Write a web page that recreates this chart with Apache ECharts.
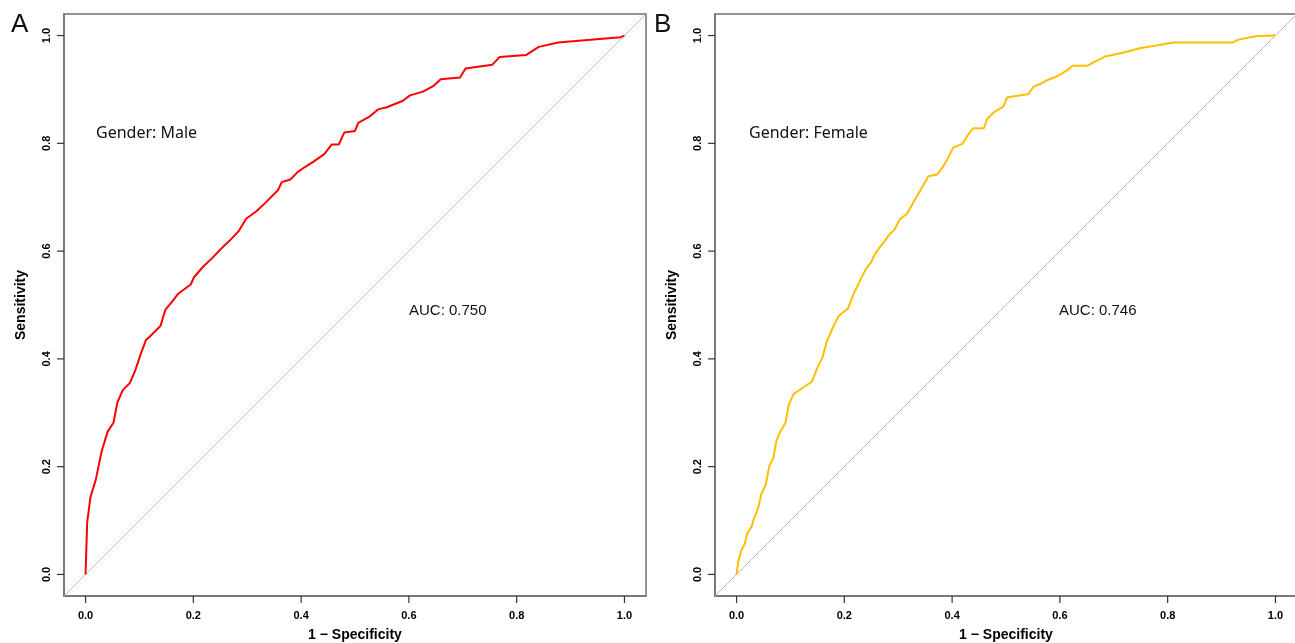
<!DOCTYPE html>
<html>
<head>
<meta charset="utf-8">
<title>ROC by gender</title>
<script src="https://cdn.jsdelivr.net/npm/echarts@6/dist/echarts.min.js"></script>
<style>
  html, body { margin: 0; padding: 0; background: #fff; }
  #chart { width: 1295px; height: 643px; }
</style>
</head>
<body>
<div id="chart"></div>
<script>
// tick positions on both axes
var ticks = [0, 0.2, 0.4, 0.6, 0.8, 1.0];

// Male ROC curve: [1 - specificity, sensitivity]
var maleRoc = [
  [0, 0], [0.003, 0.096], [0.009, 0.143], [0.019, 0.176], [0.030, 0.229],
  [0.041, 0.265], [0.052, 0.282], [0.059, 0.319], [0.069, 0.342], [0.082, 0.355],
  [0.092, 0.378], [0.102, 0.408], [0.112, 0.435], [0.119, 0.441], [0.139, 0.461],
  [0.148, 0.491], [0.162, 0.508], [0.172, 0.521], [0.195, 0.538], [0.201, 0.551],
  [0.218, 0.571], [0.235, 0.587], [0.251, 0.604], [0.268, 0.620], [0.284, 0.637],
  [0.298, 0.660], [0.317, 0.674], [0.334, 0.690], [0.357, 0.713], [0.364, 0.728],
  [0.380, 0.733], [0.394, 0.747], [0.407, 0.756], [0.423, 0.766], [0.443, 0.780],
  [0.457, 0.798], [0.470, 0.798], [0.480, 0.820], [0.500, 0.823], [0.506, 0.838],
  [0.526, 0.849], [0.543, 0.863], [0.559, 0.867], [0.589, 0.879], [0.602, 0.889],
  [0.626, 0.896], [0.645, 0.906], [0.659, 0.919], [0.695, 0.922], [0.705, 0.939],
  [0.755, 0.946], [0.768, 0.960], [0.818, 0.964], [0.841, 0.979], [0.877, 0.987],
  [0.937, 0.992], [0.993, 0.997], [1.0, 1.0]
];

// Female ROC curve
var femaleRoc = [
  [0, 0], [0.003, 0.023], [0.008, 0.043], [0.015, 0.056], [0.020, 0.076],
  [0.028, 0.089], [0.033, 0.106], [0.040, 0.123], [0.046, 0.149], [0.054, 0.166],
  [0.061, 0.202], [0.068, 0.215], [0.074, 0.248], [0.081, 0.265], [0.091, 0.282],
  [0.097, 0.315], [0.106, 0.335], [0.121, 0.345], [0.140, 0.358], [0.150, 0.384],
  [0.159, 0.401], [0.167, 0.431], [0.180, 0.461], [0.190, 0.480], [0.207, 0.494],
  [0.217, 0.520], [0.230, 0.547], [0.240, 0.567], [0.250, 0.580], [0.256, 0.593],
  [0.265, 0.606], [0.276, 0.620], [0.283, 0.630], [0.293, 0.640], [0.303, 0.659],
  [0.316, 0.669], [0.329, 0.692], [0.343, 0.716], [0.356, 0.739], [0.372, 0.742],
  [0.382, 0.755], [0.392, 0.772], [0.402, 0.792], [0.419, 0.799], [0.429, 0.815],
  [0.439, 0.828], [0.459, 0.828], [0.465, 0.845], [0.478, 0.858], [0.495, 0.868],
  [0.502, 0.885], [0.518, 0.888], [0.541, 0.891], [0.551, 0.905], [0.565, 0.911],
  [0.578, 0.918], [0.594, 0.924], [0.611, 0.934], [0.624, 0.944], [0.651, 0.944],
  [0.664, 0.951], [0.684, 0.961], [0.717, 0.968], [0.750, 0.977], [0.777, 0.981],
  [0.810, 0.987], [0.922, 0.987], [0.929, 0.992], [0.966, 0.999], [1.0, 1.0]
];

// reference diagonal, corner to corner of the R plot region
var diagonal = [[-0.04, -0.04], [1.04, 1.04]];

var axisMin = -0.04, axisMax = 1.04;
var labelFont = 'Liberation Sans, Arial, sans-serif';
var boxColor = '#707070';
var gridTop = 14, gridSize = 582;
var gridLefts = [64, 715];

function xAxisFor(idx) {
  return {
    gridIndex: idx,
    type: 'value',
    min: axisMin,
    max: axisMax,
    name: '1 \u2212 Specificity',
    nameLocation: 'middle',
    nameGap: 32,
    nameTextStyle: { fontFamily: labelFont, fontWeight: 'bold', fontSize: 14, color: '#000' },
    axisLine: { show: true, onZero: false, lineStyle: { color: boxColor, width: 1.5 } },
    splitLine: { show: false },
    axisTick: { show: false },
    axisLabel: {
      customValues: ticks,
      margin: 14,
      fontFamily: labelFont, fontWeight: 'bold', fontSize: 11, color: '#000',
      formatter: function (v) { return v.toFixed(1); }
    }
  };
}

function yAxisFor(idx) {
  return {
    gridIndex: idx,
    type: 'value',
    min: axisMin,
    max: axisMax,
    name: 'Sensitivity',
    nameLocation: 'middle',
    nameGap: 36,
    nameTextStyle: { fontFamily: labelFont, fontWeight: 'bold', fontSize: 14, color: '#000' },
    axisLine: { show: true, onZero: false, lineStyle: { color: boxColor, width: 1.5 } },
    splitLine: { show: false },
    axisTick: { show: false },
    axisLabel: {
      customValues: ticks,
      rotate: 90,
      margin: 12,
      fontFamily: labelFont, fontWeight: 'bold', fontSize: 11, color: '#000',
      formatter: function (v) { return v.toFixed(1); }
    }
  };
}

function textEl(x, y, str, font) {
  return { type: 'text', x: x, y: y, style: { text: str, font: font, fill: '#111', textVerticalAlign: 'middle' } };
}

// R-style outward tick marks, placed through the axes' own scales
function tickSeries(idx) {
  return {
    type: 'custom',
    xAxisIndex: idx,
    yAxisIndex: idx,
    clip: false,
    silent: true,
    z: 20,
    data: ticks.map(function (v) { return [v]; }),
    renderItem: function (params, api) {
      var v = api.value(0);
      var xp = api.coord([v, axisMin]);
      var yp = api.coord([axisMin, v]);
      return {
        type: 'group',
        children: [
          { type: 'line', shape: { x1: xp[0], y1: xp[1], x2: xp[0], y2: xp[1] + 7 }, style: { stroke: '#333', lineWidth: 1.2 } },
          { type: 'line', shape: { x1: yp[0] - 7, y1: yp[1], x2: yp[0], y2: yp[1] }, style: { stroke: '#333', lineWidth: 1.2 } }
        ]
      };
    }
  };
}

var chart = echarts.init(document.getElementById('chart'));
chart.setOption({
  animation: false,
  grid: gridLefts.map(function (l) {
    return { left: l, top: gridTop, width: gridSize, height: gridSize, outerBoundsMode: 'none', containLabel: false,
      show: true, borderColor: boxColor, borderWidth: 1.5, backgroundColor: 'transparent' };
  }),
  xAxis: [xAxisFor(0), xAxisFor(1)],
  yAxis: [yAxisFor(0), yAxisFor(1)],
  series: [
    { type: 'line', xAxisIndex: 0, yAxisIndex: 0, data: diagonal, symbol: 'none', lineStyle: { color: '#bdbdbd', width: 1 }, silent: true },
    { type: 'line', xAxisIndex: 0, yAxisIndex: 0, data: maleRoc, symbol: 'none', lineStyle: { color: '#ff0000', width: 2 } },
    { type: 'line', xAxisIndex: 1, yAxisIndex: 1, data: diagonal, symbol: 'none', lineStyle: { color: '#bdbdbd', width: 1 }, silent: true },
    { type: 'line', xAxisIndex: 1, yAxisIndex: 1, data: femaleRoc, symbol: 'none', lineStyle: { color: '#ffbf00', width: 2 } },
    tickSeries(0),
    tickSeries(1)
  ],
  graphic: [
    textEl(11, 25, 'A', '26px Liberation Sans, Arial, sans-serif'),
    textEl(654, 25, 'B', '26px Liberation Sans, Arial, sans-serif'),
    textEl(96, 133, 'Gender: Male', '16px Noto Sans, sans-serif'),
    textEl(749, 133, 'Gender: Female', '16px Noto Sans, sans-serif'),
    textEl(409, 311, 'AUC: 0.750', '15px Liberation Sans, Arial, sans-serif'),
    textEl(1059, 311, 'AUC: 0.746', '15px Liberation Sans, Arial, sans-serif')
  ]
});
</script>
</body>
</html>
